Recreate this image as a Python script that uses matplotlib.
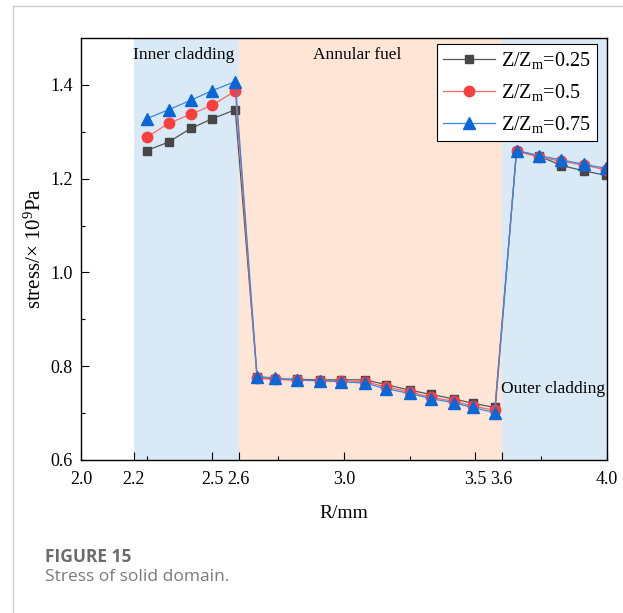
import matplotlib as mpl

mpl.use("Agg")

import matplotlib.pyplot as plt
from matplotlib.lines import Line2D
from matplotlib.ticker import FixedLocator

# radial positions (mm) and stress (x1e9 Pa) at three axial heights
R_INNER = [2.25, 2.333, 2.417, 2.5, 2.587]
R_FUEL = [2.67, 2.74, 2.82, 2.91, 2.99, 3.08, 3.16, 3.25, 3.33, 3.42, 3.49, 3.575]
R_OUTER = [3.657, 3.744, 3.828, 3.912, 3.997]

S_025 = ([1.260, 1.278, 1.307, 1.328, 1.347]
         + [0.776, 0.773, 0.772, 0.771, 0.771, 0.771, 0.761, 0.749, 0.740, 0.730, 0.721, 0.712]
         + [1.260, 1.248, 1.228, 1.217, 1.207])
S_050 = ([1.288, 1.318, 1.337, 1.357, 1.387]
         + [0.774, 0.772, 0.770, 0.769, 0.769, 0.767, 0.756, 0.745, 0.734, 0.725, 0.715, 0.706]
         + [1.258, 1.246, 1.237, 1.229, 1.219])
S_075 = ([1.328, 1.347, 1.367, 1.388, 1.407]
         + [0.778, 0.775, 0.771, 0.769, 0.767, 0.764, 0.752, 0.742, 0.731, 0.722, 0.712, 0.701]
         + [1.260, 1.249, 1.240, 1.231, 1.222])

SERIES_LABELS = [r"Z/Z$_\mathrm{m}$=0.25", r"Z/Z$_\mathrm{m}$=0.5", r"Z/Z$_\mathrm{m}$=0.75"]

REGIONS = [(2.2, 2.6, "#d9e9f6"), (2.6, 3.6, "#fee5d6"), (3.6, 4.0, "#d9e9f6")]
REGION_LABELS = [("Inner cladding", 2.389, 1.463), ("Annular fuel", 3.052, 1.463),
                 ("Outer cladding", 3.796, 0.751)]

X_TICKS = [2.0, 2.2, 2.5, 2.6, 3.0, 3.5, 3.6, 4.0]
X_MINOR = [2.25, 2.75, 3.25, 3.75]
Y_TICKS = [0.6, 0.8, 1.0, 1.2, 1.4]
Y_MINOR = [0.7, 0.9, 1.1, 1.3]

SERIF = "Liberation Serif"
mpl.rcParams.update({
    "font.family": SERIF,
    "mathtext.fontset": "custom",
    "mathtext.rm": SERIF,
    "mathtext.it": SERIF + ":italic",
    "mathtext.bf": SERIF + ":bold",
})

fig = plt.figure(figsize=(6.23, 6.13), dpi=100)
ax = fig.add_axes([0.130, 0.2496, 0.8438, 0.6884])

for x0, x1, color in REGIONS:
    ax.axvspan(x0, x1, color=color, lw=0, zorder=0)

r_all = R_INNER + R_FUEL + R_OUTER
styles = [
    dict(color="#555555", marker="s", ms=6.0, mfc="#474747", mec="#474747"),
    dict(color="#f26a6a", marker="o", ms=7.5, mfc="#fa3e3e", mec="#fa3e3e"),
    dict(color="#3d86e0", marker="^", ms=8.0, mfc="#0b66d6", mec="#0b66d6"),
]
for values, label, st in zip([S_025, S_050, S_075], SERIES_LABELS, styles):
    ax.plot(r_all, values, lw=0.9, label=label, zorder=3, **st)

for text, x, y in REGION_LABELS:
    ax.text(x, y, text, ha="center", va="center", fontsize=12.5, zorder=4)

ax.set_xlim(2.0, 4.0)
ax.set_ylim(0.6, 1.5)
ax.xaxis.set_major_locator(FixedLocator(X_TICKS))
ax.xaxis.set_minor_locator(FixedLocator(X_MINOR))
ax.yaxis.set_major_locator(FixedLocator(Y_TICKS))
ax.yaxis.set_minor_locator(FixedLocator(Y_MINOR))
ax.set_xticklabels([f"{t:.1f}" for t in X_TICKS], fontfamily=SERIF, fontsize=13)
ax.set_yticklabels([f"{t:.1f}" for t in Y_TICKS], fontfamily=SERIF, fontsize=13)
ax.tick_params(which="both", direction="in", width=0.8, top=False, right=False)
ax.tick_params(which="major", length=6)
ax.tick_params(axis="x", which="major", pad=8)
ax.tick_params(axis="y", which="major", pad=6)
ax.tick_params(which="minor", length=3.2)
for spine in ax.spines.values():
    spine.set_linewidth(1.0)
    spine.set_zorder(5)

ax.set_xlabel("R/mm", fontsize=14, labelpad=12)
ax.set_ylabel("stress/\u00d7 10$^{9}$Pa", fontsize=15, labelpad=3)

leg = ax.legend(loc="upper right", bbox_to_anchor=(0.9815, 0.9858), borderaxespad=0,
                prop={"family": SERIF, "size": 14.5}, fancybox=False, framealpha=1,
                edgecolor="black", handlelength=2.6, handletextpad=0.3, borderpad=0.3,
                labelspacing=0.55)
leg.get_frame().set_linewidth(0.8)
leg.set_zorder(6)

# page border and caption
border = "#cfcfcf"
fig.add_artist(Line2D([12.7 / 623, 12.7 / 623], [1 - 611.7 / 613, 1 - 5.7 / 613],
                      color=border, lw=1.0, transform=fig.transFigure))
fig.add_artist(Line2D([12.7 / 623, 1.0], [1 - 5.7 / 613, 1 - 5.7 / 613],
                      color=border, lw=1.0, transform=fig.transFigure))
fig.text(45 / 623, 1 - 557 / 613, "FIGURE 15", family="Open Sans", fontweight="bold",
         fontsize=12.5, color="#6b6b6b", va="center", ha="left")
fig.text(45 / 623, 1 - 577 / 613, "Stress of solid domain.", family="Open Sans",
         fontsize=12.5, color="#7a7a7a", va="center", ha="left")

fig.savefig("out.png", dpi=100)
